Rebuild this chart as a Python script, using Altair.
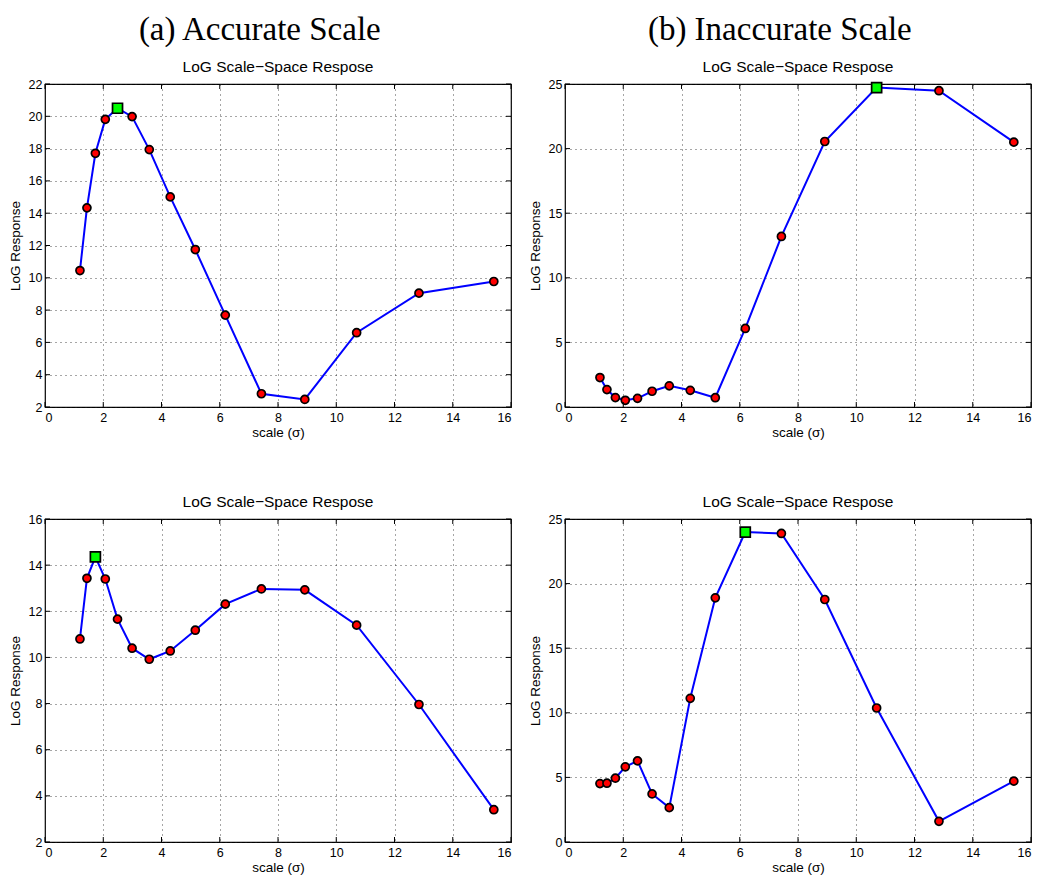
import altair as alt
import pandas as pd

# Scale-space sample positions (sigma) shared by every panel
SCALES = [1.2, 1.44, 1.73, 2.07, 2.49, 2.99, 3.58, 4.30, 5.16, 6.19, 7.43, 8.92, 10.70, 12.84, 15.41]

# LoG responses, column (a) accurate scale
ACC_TOP = [10.45, 14.33, 17.71, 19.81, 20.5, 19.98, 17.94, 15.01, 11.75, 7.69, 2.82, 2.47, 6.6, 9.05, 9.77]
ACC_BOTTOM = [10.8, 13.43, 14.36, 13.4, 11.66, 10.4, 9.92, 10.28, 11.18, 12.31, 12.97, 12.93, 11.4, 7.96, 3.40]

# LoG responses, column (b) inaccurate scale
INACC_TOP = [2.28, 1.35, 0.73, 0.52, 0.67, 1.22, 1.64, 1.29, 0.72, 6.08, 13.2, 20.55, 24.72, 24.48, 20.5]
INACC_BOTTOM = [4.52, 4.55, 4.94, 5.82, 6.28, 3.72, 2.66, 11.12, 18.9, 23.99, 23.88, 18.77, 10.37, 1.6, 4.71]

# Axis tick positions
X_TICKS = [0, 2, 4, 6, 8, 10, 12, 14, 16]
Y_TICKS_ACC_TOP = [2, 4, 6, 8, 10, 12, 14, 16, 18, 20, 22]
Y_TICKS_ACC_BOTTOM = [2, 4, 6, 8, 10, 12, 14, 16]
Y_TICKS_INACC = [0, 5, 10, 15, 20, 25]

PANEL_TITLE = "LoG Scale\u2212Space Respose"
W, H = 466, 323
TICK = 5  # inward tick length in px


def panel(resp, yticks):
    lo, hi = yticks[0], yticks[-1]
    df = pd.DataFrame({"scale": SCALES, "resp": resp})
    df["peak"] = df.index == df["resp"].idxmax()

    xs = alt.Scale(domain=[0, 16], nice=False, zero=False)
    ys = alt.Scale(domain=[lo, hi], nice=False, zero=False)
    xaxis = alt.Axis(values=X_TICKS, title="scale (\u03c3)", labelPadding=4, titlePadding=2)
    yaxis = alt.Axis(values=yticks, title="LoG Response", labelPadding=3, titlePadding=6)

    base = alt.Chart(df).encode(
        x=alt.X("scale:Q", scale=xs, axis=xaxis),
        y=alt.Y("resp:Q", scale=ys, axis=yaxis),
    )
    line = base.mark_line(color="#0000ff", strokeWidth=2)
    dots = base.transform_filter("!datum.peak").mark_point(
        shape="circle", filled=True, fill="#ff0000", stroke="#000000",
        strokeWidth=1.7, size=64, opacity=1,
    )
    top = base.transform_filter("datum.peak").mark_point(
        shape="square", filled=True, fill="#00ff00", stroke="#000000",
        strokeWidth=1.7, size=100, opacity=1,
    )

    # inward tick marks on all four sides of the box
    xt = alt.Chart(pd.DataFrame({"scale": X_TICKS})).mark_rule(color="#000000", strokeWidth=1)
    yt = alt.Chart(pd.DataFrame({"resp": yticks})).mark_rule(color="#000000", strokeWidth=1)
    xenc = alt.X("scale:Q", scale=xs, axis=xaxis)
    yenc = alt.Y("resp:Q", scale=ys, axis=yaxis)
    ticks = [
        xt.encode(x=xenc, y=alt.value(H), y2=alt.value(H - TICK)),
        xt.encode(x=xenc, y=alt.value(0), y2=alt.value(TICK)),
        yt.encode(y=yenc, x=alt.value(0), x2=alt.value(TICK)),
        yt.encode(y=yenc, x=alt.value(W), x2=alt.value(W - TICK)),
    ]

    return alt.layer(line, dots, top, *ticks).properties(
        width=W, height=H,
        title=alt.Title(PANEL_TITLE, font="Liberation Sans", fontSize=15.5,
                        fontWeight="normal", color="#000000", offset=3),
    )


def column(label, upper, lower):
    return alt.vconcat(upper, lower, spacing=53).properties(
        title=alt.Title(label, font="Liberation Serif", fontSize=33,
                        fontWeight="normal", color="#000000", anchor="middle", offset=12),
    )


col_a = column("(a) Accurate Scale", panel(ACC_TOP, Y_TICKS_ACC_TOP), panel(ACC_BOTTOM, Y_TICKS_ACC_BOTTOM))
col_b = column("(b) Inaccurate Scale", panel(INACC_TOP, Y_TICKS_INACC), panel(INACC_BOTTOM, Y_TICKS_INACC))

chart = (
    alt.hconcat(col_a, col_b, spacing=14)
    .properties(padding={"left": 7, "top": 13, "right": 5, "bottom": 5}, background="white")
    .configure_view(stroke="#000000", strokeWidth=1.2)
    .configure_axis(
        grid=True, gridColor="#222222", gridDash=[1, 4], gridWidth=1, gridOpacity=0.8,
        domain=False, ticks=False,
        labelFont="Liberation Sans", labelFontSize=12.5, labelColor="#000000",
        titleFont="Liberation Sans", titleFontSize=13.5, titleFontWeight="normal",
        titleColor="#000000",
    )
)

chart.save("out.html", embed_options={"renderer": "svg", "actions": False})
